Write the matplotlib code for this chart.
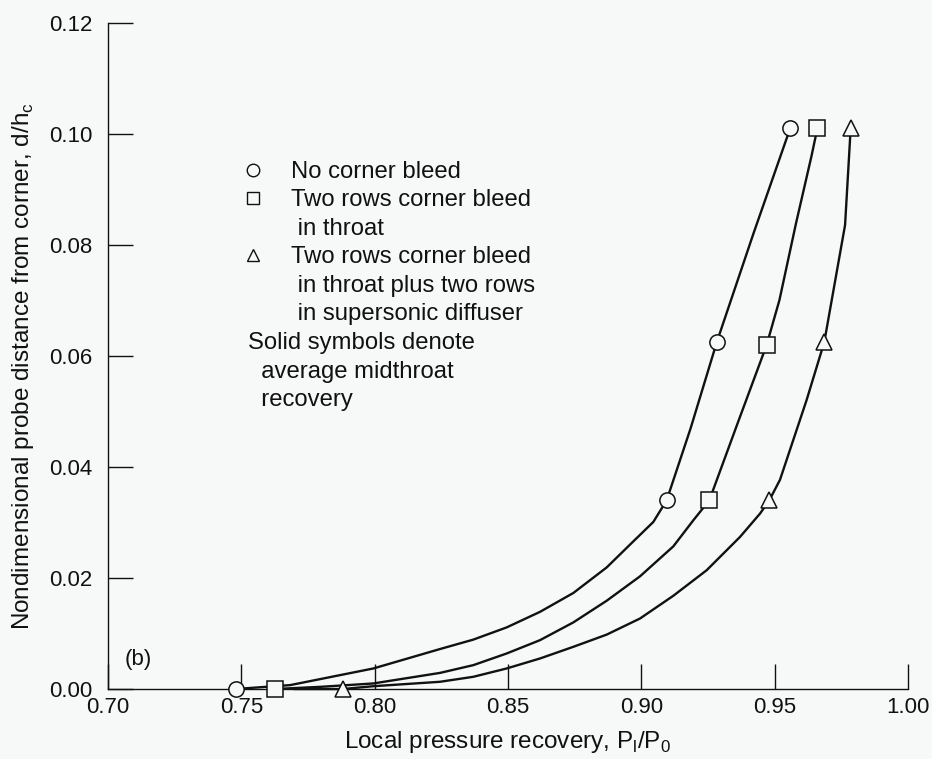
import matplotlib
matplotlib.use('Agg')
import matplotlib.pyplot as plt
from matplotlib.lines import Line2D

plt.rcParams['font.family'] = ['Liberation Sans', 'DejaVu Sans']

# ---- data ----
# measured points (markers)
circ_x = [0.748, 0.9095, 0.9283, 0.9558]
circ_y = [0.0, 0.034, 0.0625, 0.101]
sq_x = [0.7627, 0.9255, 0.947, 0.966]
sq_y = [0.0, 0.034, 0.062, 0.101]
tri_x = [0.7882, 0.948, 0.9686, 0.9785]
tri_y = [0.0, 0.034, 0.0625, 0.101]

# faired curves
c1_x = [0.7479, 0.7683, 0.7995, 0.8245, 0.8370, 0.8495, 0.8620, 0.8745, 0.8870,
        0.8970, 0.9045, 0.9095, 0.9185, 0.9283, 0.9420, 0.9558]
c1_y = [0.0, 0.0007, 0.0037, 0.0072, 0.0089, 0.0111, 0.0139, 0.0173, 0.0219,
        0.0266, 0.0301, 0.0340, 0.0470, 0.0625, 0.0820, 0.1010]
c2_x = [0.7627, 0.7800, 0.7995, 0.8245, 0.8370, 0.8495, 0.8620, 0.8745, 0.8870,
        0.8995, 0.9120, 0.9195, 0.9255, 0.9362, 0.9470, 0.9518, 0.9580, 0.9638,
        0.9660]
c2_y = [0.0, 0.0004, 0.0010, 0.0029, 0.0043, 0.0064, 0.0088, 0.0120, 0.0159,
        0.0203, 0.0257, 0.0304, 0.0340, 0.0480, 0.0620, 0.0701, 0.0839, 0.0960,
        0.1010]
c3_x = [0.7700, 0.7882, 0.7994, 0.8245, 0.8370, 0.8495, 0.8620, 0.8745, 0.8870,
        0.8995, 0.9120, 0.9245, 0.9370, 0.9445, 0.9480, 0.9520, 0.9620, 0.9686,
        0.9764, 0.9785]
c3_y = [0.0, 0.0, 0.0005, 0.0013, 0.0022, 0.0037, 0.0055, 0.0076, 0.0098,
        0.0127, 0.0168, 0.0214, 0.0274, 0.0316, 0.0340, 0.0377, 0.0521, 0.0625,
        0.0836, 0.1010]

x_ticks = [0.70, 0.75, 0.80, 0.85, 0.90, 0.95, 1.00]
y_ticks = [0.00, 0.02, 0.04, 0.06, 0.08, 0.10, 0.12]

legend_labels = ["No corner bleed", "Two rows corner bleed", " in throat",
                 "Two rows corner bleed", " in throat plus two rows",
                 " in supersonic diffuser"]
note_lines = ["Solid symbols denote", "  average midthroat", "  recovery"]

# ---- style ----
bg = '#f7f8f8'
ink = '#111111'
W, H = 932, 759
fs_tick = 16
fs_text = 17.2
fs_label = 17.5

fig = plt.figure(figsize=(W / 100, H / 100), dpi=100, facecolor=bg)
ax = fig.add_axes([108 / W, 70 / H, 800 / W, 666 / H])
ax.set_facecolor(bg)

for s in ('top', 'right'):
    ax.spines[s].set_visible(False)
for s in ('left', 'bottom'):
    ax.spines[s].set_linewidth(1.0)
    ax.spines[s].set_color(ink)

ax.set_xlim(0.70, 1.00)
ax.set_ylim(0.0, 0.12)
ax.set_xticks(x_ticks)
ax.set_yticks(y_ticks)
ax.set_xticklabels([f"{v:.2f}" for v in x_ticks])
ax.set_yticklabels([f"{v:.2f}" for v in y_ticks])
ax.tick_params(axis='both', direction='in', length=18, width=1.0, color=ink,
               labelsize=fs_tick, labelcolor=ink)
ax.tick_params(axis='x', pad=6)
ax.tick_params(axis='y', pad=11)

lw = 1.7
for cx, cy in ((c1_x, c1_y), (c2_x, c2_y), (c3_x, c3_y)):
    ax.plot(cx, cy, color=ink, lw=lw, clip_on=False, zorder=2,
            solid_joinstyle='round')

mk = dict(ls='none', mfc=bg, mec=ink, mew=1.1, ms=11, clip_on=False, zorder=3)
ax.plot(circ_x, circ_y, marker='o', **mk)
ax.plot(sq_x, sq_y, marker='s', **mk)
ax.plot(tri_x, tri_y, marker='^', **mk)

ax.set_xlabel("Local pressure recovery, P$_\\mathregular{l}$/P$_\\mathregular{0}$",
              fontsize=fs_label, color=ink)
ax.set_ylabel("Nondimensional probe distance from corner, d/h$_\\mathregular{c}$",
              fontsize=fs_label, color=ink)
ax.xaxis.set_label_coords(0.5, -0.06)
ax.yaxis.set_label_coords(-0.090, 0.485)

# legend
hk = dict(ls='none', mfc=bg, mec=ink, mew=1.0, ms=9)
blank = Line2D([], [], ls='none')
handles = [Line2D([], [], marker='o', **hk), Line2D([], [], marker='s', **hk), blank,
           Line2D([], [], marker='^', **hk), blank, blank]
leg = ax.legend(handles, legend_labels, loc='upper left',
                bbox_to_anchor=((241 - 108) / 800, (689 - 161) / 666),
                frameon=False, fontsize=fs_text, borderpad=0, borderaxespad=0,
                handlelength=1.0, handletextpad=1.1, labelspacing=0.27)
for t in leg.get_texts():
    t.set_color(ink)

note_y = [343, 372, 400]
for line, py in zip(note_lines, note_y):
    ax.text((248 - 108) / 800, (689 - py) / 666, line, transform=ax.transAxes,
            fontsize=fs_text, color=ink, ha='left', va='center')

ax.text((125 - 108) / 800, (689 - 660) / 666, "(b)", transform=ax.transAxes,
        fontsize=fs_tick, color=ink, ha='left', va='center')

fig.savefig('out.png', dpi=100, facecolor=bg)
